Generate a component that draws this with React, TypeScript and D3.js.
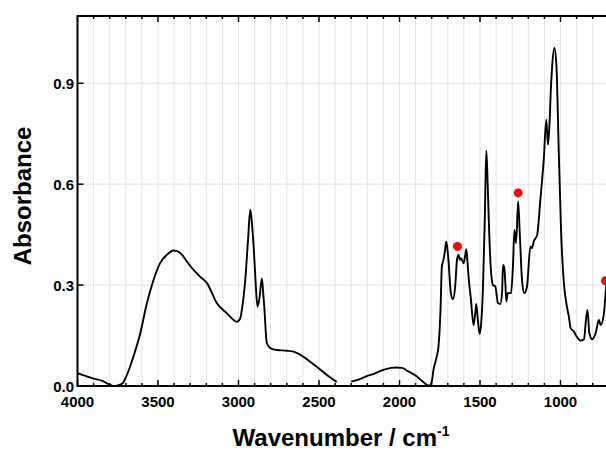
import React from 'react';
import * as d3 from 'd3';

// spectrum, first segment (4000 -> 2390), CO2 band removed after that
const waveA = [4000, 3950, 3900, 3850, 3800, 3778, 3750, 3720, 3693, 3653, 3610, 3569, 3528, 3486, 3445, 3404, 3380, 3350, 3321, 3279, 3238, 3196, 3134, 3072, 3010, 2990, 2975, 2958, 2940, 2927, 2916, 2906, 2895, 2882, 2870, 2855, 2847, 2840, 2824, 2800, 2762, 2700, 2658, 2600, 2555, 2500, 2451, 2420, 2390];
const absA = [0.038, 0.030, 0.022, 0.016, 0.004, 0.000, 0.002, 0.008, 0.033, 0.087, 0.157, 0.246, 0.315, 0.366, 0.390, 0.403, 0.401, 0.390, 0.370, 0.345, 0.325, 0.306, 0.246, 0.216, 0.191, 0.200, 0.240, 0.315, 0.440, 0.524, 0.480, 0.415, 0.320, 0.236, 0.260, 0.320, 0.280, 0.236, 0.127, 0.112, 0.107, 0.105, 0.102, 0.088, 0.072, 0.052, 0.033, 0.022, 0.012];

// second segment (2300 -> 705)
const waveB = [2300, 2250, 2200, 2160, 2100, 2052, 2020, 1986, 1950, 1900, 1860, 1835, 1815, 1800, 1789, 1770, 1758, 1745, 1737, 1727, 1718, 1710, 1703, 1696, 1681, 1668, 1654, 1643, 1633, 1625, 1618, 1602, 1593, 1585, 1578, 1571, 1556, 1540, 1530, 1523, 1513, 1502, 1492, 1482, 1470, 1461, 1455, 1448, 1436, 1419, 1405, 1388, 1374, 1363, 1357, 1349, 1342, 1336, 1328, 1307, 1295, 1286, 1276, 1263, 1253, 1239, 1225, 1208, 1187, 1177, 1166, 1145, 1125, 1104, 1088, 1078, 1069, 1060, 1052, 1038, 1025, 1011, 996, 979, 962, 948, 937, 917, 900, 875, 854, 842, 832, 821, 803, 782, 761, 751, 730, 718, 705];
const absB = [0.013, 0.020, 0.030, 0.036, 0.048, 0.054, 0.055, 0.054, 0.045, 0.031, 0.015, 0.005, 0.001, 0.012, 0.048, 0.085, 0.117, 0.230, 0.355, 0.375, 0.400, 0.430, 0.410, 0.375, 0.276, 0.258, 0.296, 0.375, 0.390, 0.375, 0.380, 0.365, 0.385, 0.407, 0.370, 0.325, 0.256, 0.181, 0.215, 0.244, 0.195, 0.155, 0.190, 0.286, 0.500, 0.700, 0.640, 0.534, 0.375, 0.300, 0.296, 0.246, 0.244, 0.276, 0.360, 0.350, 0.300, 0.251, 0.276, 0.276, 0.360, 0.464, 0.425, 0.549, 0.454, 0.315, 0.276, 0.296, 0.415, 0.410, 0.430, 0.449, 0.554, 0.673, 0.792, 0.717, 0.772, 0.880, 0.950, 1.005, 0.950, 0.702, 0.454, 0.306, 0.241, 0.206, 0.172, 0.162, 0.147, 0.135, 0.139, 0.196, 0.226, 0.157, 0.139, 0.157, 0.196, 0.181, 0.216, 0.286, 0.330];

// marked peaks
const markWave = [1640, 1263, 720];
const markAbs = [0.415, 0.574, 0.313];

const xMajor = [4000, 3500, 3000, 2500, 2000, 1500, 1000];
const yMajor = [0.0, 0.3, 0.6, 0.9];

const W = 606, H = 451;
const FONT = '"Liberation Sans", Arial, sans-serif';

export default function App() {
  const left = 77.5, top = 16, bottom = 386;
  const x = d3.scaleLinear().domain([4000, 700]).range([left, left + 3300 * 0.161]);
  const y = d3.scaleLinear().domain([0, 1.1]).range([bottom, top]);
  const right = x(700);

  const line = d3.line<[number, number]>()
    .x(d => x(d[0]))
    .y(d => y(d[1]))
    .curve(d3.curveMonotoneX);
  const segA = waveA.map((w, i) => [w, absA[i]] as [number, number]);
  const segB = waveB.map((w, i) => [w, absB[i]] as [number, number]);

  const minor = d3.range(4000, 699, -100);

  return (
    <svg width={W} height={H} style={{ position: 'absolute', left: 0, top: 0, background: '#fff' }}>
      {/* grid */}
      {minor.map(v => (
        <line key={'gx' + v} x1={x(v)} x2={x(v)} y1={top} y2={bottom} stroke="#e4e4e4" strokeWidth={1} />
      ))}
      {yMajor.filter(v => v > 0).map(v => (
        <line key={'gy' + v} x1={left} x2={right} y1={y(v)} y2={y(v)} stroke="#e4e4e4" strokeWidth={1} />
      ))}

      {/* spectrum */}
      <path d={line(segA) || ''} fill="none" stroke="#000" strokeWidth={1.9} strokeLinejoin="round" />
      <path d={line(segB) || ''} fill="none" stroke="#000" strokeWidth={1.9} strokeLinejoin="round" />

      {markWave.map((w, i) => (
        <circle key={'m' + i} cx={x(w)} cy={y(markAbs[i])} r={4.5} fill="#f00" />
      ))}

      {/* ticks */}
      {minor.map(v => {
        const len = v % 500 === 0 ? 6 : 3;
        return (
          <g key={'t' + v}>
            <line x1={x(v)} x2={x(v)} y1={bottom} y2={bottom - len} stroke="#000" strokeWidth={1.5} />
            <line x1={x(v)} x2={x(v)} y1={top} y2={top + len} stroke="#000" strokeWidth={1.5} />
          </g>
        );
      })}
      {yMajor.map(v => (
        <line key={'yt' + v} x1={left} x2={left + 6} y1={y(v)} y2={y(v)} stroke="#000" strokeWidth={1.5} />
      ))}

      {/* frame */}
      <rect x={left} y={top} width={right - left} height={bottom - top} fill="none" stroke="#000" strokeWidth={2} />

      {/* tick labels */}
      {xMajor.map(v => (
        <text key={'xl' + v} x={x(v)} y={407} textAnchor="middle" fontFamily={FONT} fontWeight="bold" fontSize={15}>{v}</text>
      ))}
      {yMajor.map(v => (
        <text key={'yl' + v} x={74} y={y(v) + 5.5} textAnchor="end" fontFamily={FONT} fontWeight="bold" fontSize={15}>{v.toFixed(1)}</text>
      ))}

      {/* axis titles */}
      <text x={341} y={446} textAnchor="middle" fontFamily={FONT} fontWeight="bold" fontSize={24}>
        Wavenumber / cm<tspan fontSize={14} dy={-10}>-1</tspan>
      </text>
      <text transform="translate(31,196) rotate(-90)" textAnchor="middle" fontFamily={FONT} fontWeight="bold" fontSize={24}>Absorbance</text>
    </svg>
  );
}
